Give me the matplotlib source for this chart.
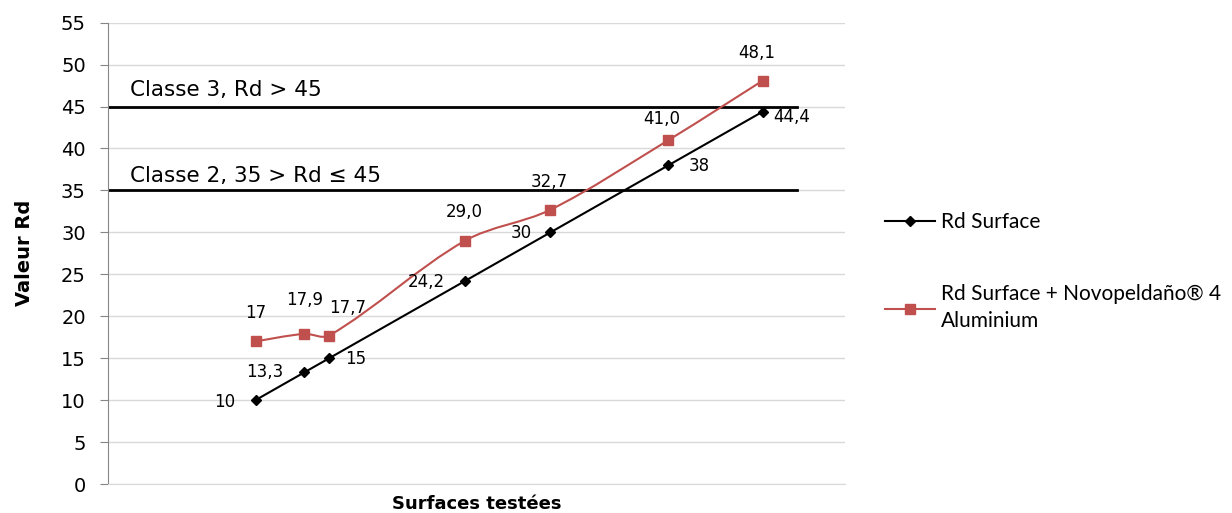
import matplotlib.pyplot as plt
from matplotlib.path import Path
from matplotlib.patches import PathPatch
from matplotlib.lines import Line2D
import numpy as np

# Data (x positions follow the Rd Surface values)
rd_surface = [10, 13.3, 15, 24.2, 30, 38, 44.4]
rd_novo = [17, 17.9, 17.7, 29.0, 32.7, 41.0, 48.1]
labels_surface = ['10', '13,3', '15', '24,2', '30', '38', '44,4']
labels_novo = ['17', '17,9', '17,7', '29,0', '32,7', '41,0', '48,1']
thresholds = [45, 35]
threshold_texts = ['Classe 3, Rd > 45', 'Classe 2, 35 > Rd \u2264 45']

# label offsets in pixels (dx, dy)
off_surface = [(-31, -2), (-39, 0), (26, -1), (-39, -1), (-29, -1), (31, -1), (29, -5)]
off_novo = [(0, 28), (0, 34), (18, 28), (-1, 29), (-1, 28), (-7, 21), (-6, 28)]
off_thresh = [11, 8]

red = '#C0504D'


def smooth_path(xs, ys, sx=14.74, sy=8.387):
    # Bezier curve through the points, like the spreadsheet "smoothed line"
    pts = np.column_stack([xs, ys]).astype(float)
    scale = np.array([sx, sy])
    n = len(pts)

    def dist(a, b):
        return np.hypot(*((b - a) * scale))

    verts = [pts[0]]
    codes = [Path.MOVETO]
    for i in range(n - 1):
        p0 = pts[max(i - 1, 0)]
        p1 = pts[i]
        p2 = pts[i + 1]
        p3 = pts[min(i + 2, n - 1)]
        d01, d12, d23 = dist(p0, p1), dist(p1, p2), dist(p2, p3)
        k1 = d12 / (d01 + d12) / 3 * 2 if d01 > 0 else 1 / 3
        k2 = d12 / (d12 + d23) / 3 * 2 if d23 > 0 else 1 / 3
        t1 = (p2 - p0) if d01 > 0 else (p2 - p1)
        t2 = (p3 - p1) if d23 > 0 else (p2 - p1)
        verts += [p1 + t1 * k1 / 2, p2 - t2 * k2 / 2, p2]
        codes += [Path.CURVE4] * 3
    return Path(verts, codes)


fig = plt.figure(figsize=(12.32, 5.13), dpi=100)
ax = fig.add_axes([0.0877, 0.0565, 0.5985, 0.8993])

ax.set_xlim(0, 50)
ax.set_ylim(0, 55)
ax.set_yticks(range(0, 56, 5))
ax.set_xticks([])
ax.grid(axis='y', color='#D9D9D9', lw=1)
ax.set_axisbelow(True)
for s in ['top', 'right']:
    ax.spines[s].set_visible(False)
ax.spines['left'].set_color('#868686')
ax.spines['bottom'].set_color('#D9D9D9')
ax.tick_params(axis='y', length=6, color='#868686', labelsize=14, pad=10)

# threshold lines
for t, txt, dy in zip(thresholds, threshold_texts, off_thresh):
    ax.axhline(t, xmin=0, xmax=0.935, color='black', lw=2)
    ax.annotate(txt, (0, t), xytext=(22, dy), textcoords='offset pixels',
                fontsize=15.5, va='baseline', ha='left')

# series
ax.plot(rd_surface, rd_surface, color='black', lw=1.5, marker='D', ms=5, zorder=3)
ax.add_patch(PathPatch(smooth_path(rd_surface, rd_novo), fill=False,
                       edgecolor=red, lw=1.5, zorder=3))
ax.plot(rd_surface, rd_novo, ls='none', marker='s', ms=7, color=red, zorder=4)

for x, y, lab, (dx, dy) in zip(rd_surface, rd_surface, labels_surface, off_surface):
    ax.annotate(lab, (x, y), xytext=(dx, dy), textcoords='offset pixels',
                ha='center', va='center', fontsize=12)
for x, y, lab, (dx, dy) in zip(rd_surface, rd_novo, labels_novo, off_novo):
    ax.annotate(lab, (x, y), xytext=(dx, dy), textcoords='offset pixels',
                ha='center', va='center', fontsize=12)

ax.set_ylabel('Valeur Rd', fontsize=14, fontweight='bold')
ax.yaxis.set_label_coords(-0.101, 0.5)
ax.set_xlabel('Surfaces test\u00e9es', fontsize=13, fontweight='bold', labelpad=8)

handles = [Line2D([], [], color='black', lw=1.5, marker='D', ms=5),
           Line2D([], [], color=red, lw=1.5, marker='s', ms=7)]
leg = ax.legend(handles, ['Rd Surface', 'Rd Surface + Novopelda\u00f1o\u00ae 4\nAluminium'],
                loc='upper left', bbox_to_anchor=(0.703, 0.623), bbox_transform=fig.transFigure,
                frameon=False, prop={'family': 'Lato', 'size': 15}, handlelength=2.4,
                handletextpad=0.3, labelspacing=2.5)
for txt in leg.get_texts():
    txt.set_linespacing(1.45)

fig.savefig('out.png', dpi=100)
